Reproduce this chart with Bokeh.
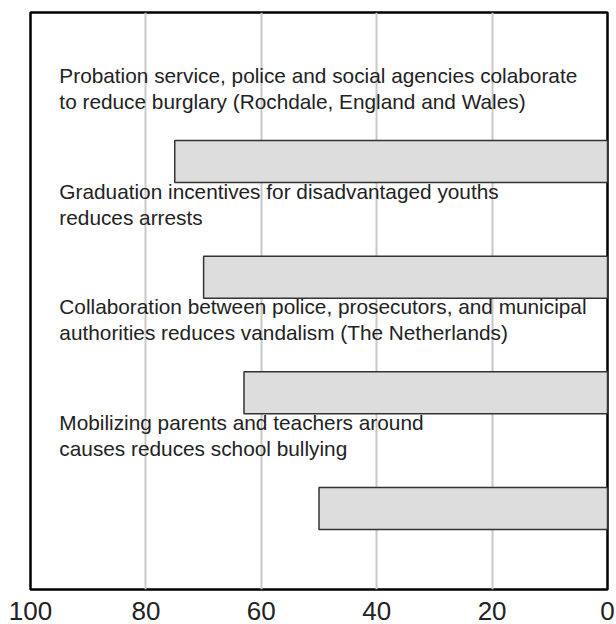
from bokeh.plotting import figure
from bokeh.models import Range1d, FixedTicker, ColumnDataSource
from bokeh.core.properties import value
from bokeh.embed import file_html
from bokeh.resources import INLINE

# ---- data ----
line1 = [
    "Probation service, police and social agencies colaborate",
    "Graduation incentives for disadvantaged youths",
    "Collaboration between police, prosecutors, and municipal",
    "Mobilizing parents and teachers around",
]
line2 = [
    "to reduce burglary (Rochdale, England and Wales)",
    "reduces arrests",
    "authorities reduces vandalism (The Netherlands)",
    "causes reduces school bullying",
]
values = [75, 70, 63, 50]
x_ticks = [100, 80, 60, 40, 20, 0]

n = len(values)
ypos = [n - i for i in range(n)]  # top bar first

src = ColumnDataSource(dict(y=ypos, v=values, zero=[0] * n,
                            l1=line1, l2=line2, tx=[95] * n))

FONT = "Liberation Sans"

p = figure(width=616, height=624, output_backend="svg", toolbar_location=None,
           x_range=Range1d(100, 0), y_range=Range1d(0.3, 5.288),
           y_axis_location=None, min_border_left=30, min_border_top=12,
           min_border_right=9, min_border_bottom=35)

p.outline_line_color = "black"
p.outline_line_width = 2.5
p.background_fill_color = "white"
p.border_fill_color = "white"

p.ygrid.visible = False
p.xgrid.grid_line_color = "#c8c8c8"
p.xgrid.grid_line_width = 2
p.xaxis.ticker = FixedTicker(ticks=x_ticks)
p.xaxis.axis_line_color = None
p.xaxis.major_tick_line_color = None
p.xaxis.minor_tick_line_color = None
p.xaxis.major_tick_out = 0
p.xaxis.major_tick_in = 0
p.xaxis.major_label_standoff = 12
p.xaxis.major_label_text_line_height = 0.8
p.xaxis.major_label_text_font = FONT
p.xaxis.major_label_text_font_size = "26px"
p.xaxis.major_label_text_color = "#222222"

p.hbar(y="y", left="zero", right="v", height=0.363, source=src,
       fill_color="#dddddd", line_color="#333333", line_width=1.5)

p.text(x="tx", y="y", text="l1", source=src, y_offset=-86,
       text_font=value(FONT), text_font_size="20.8px", text_color="#222222",
       text_align="left", text_baseline="middle")
p.text(x="tx", y="y", text="l2", source=src, y_offset=-60,
       text_font=value(FONT), text_font_size="20.8px", text_color="#222222",
       text_align="left", text_baseline="middle")

open("out.html", "w").write(file_html(p, INLINE))
